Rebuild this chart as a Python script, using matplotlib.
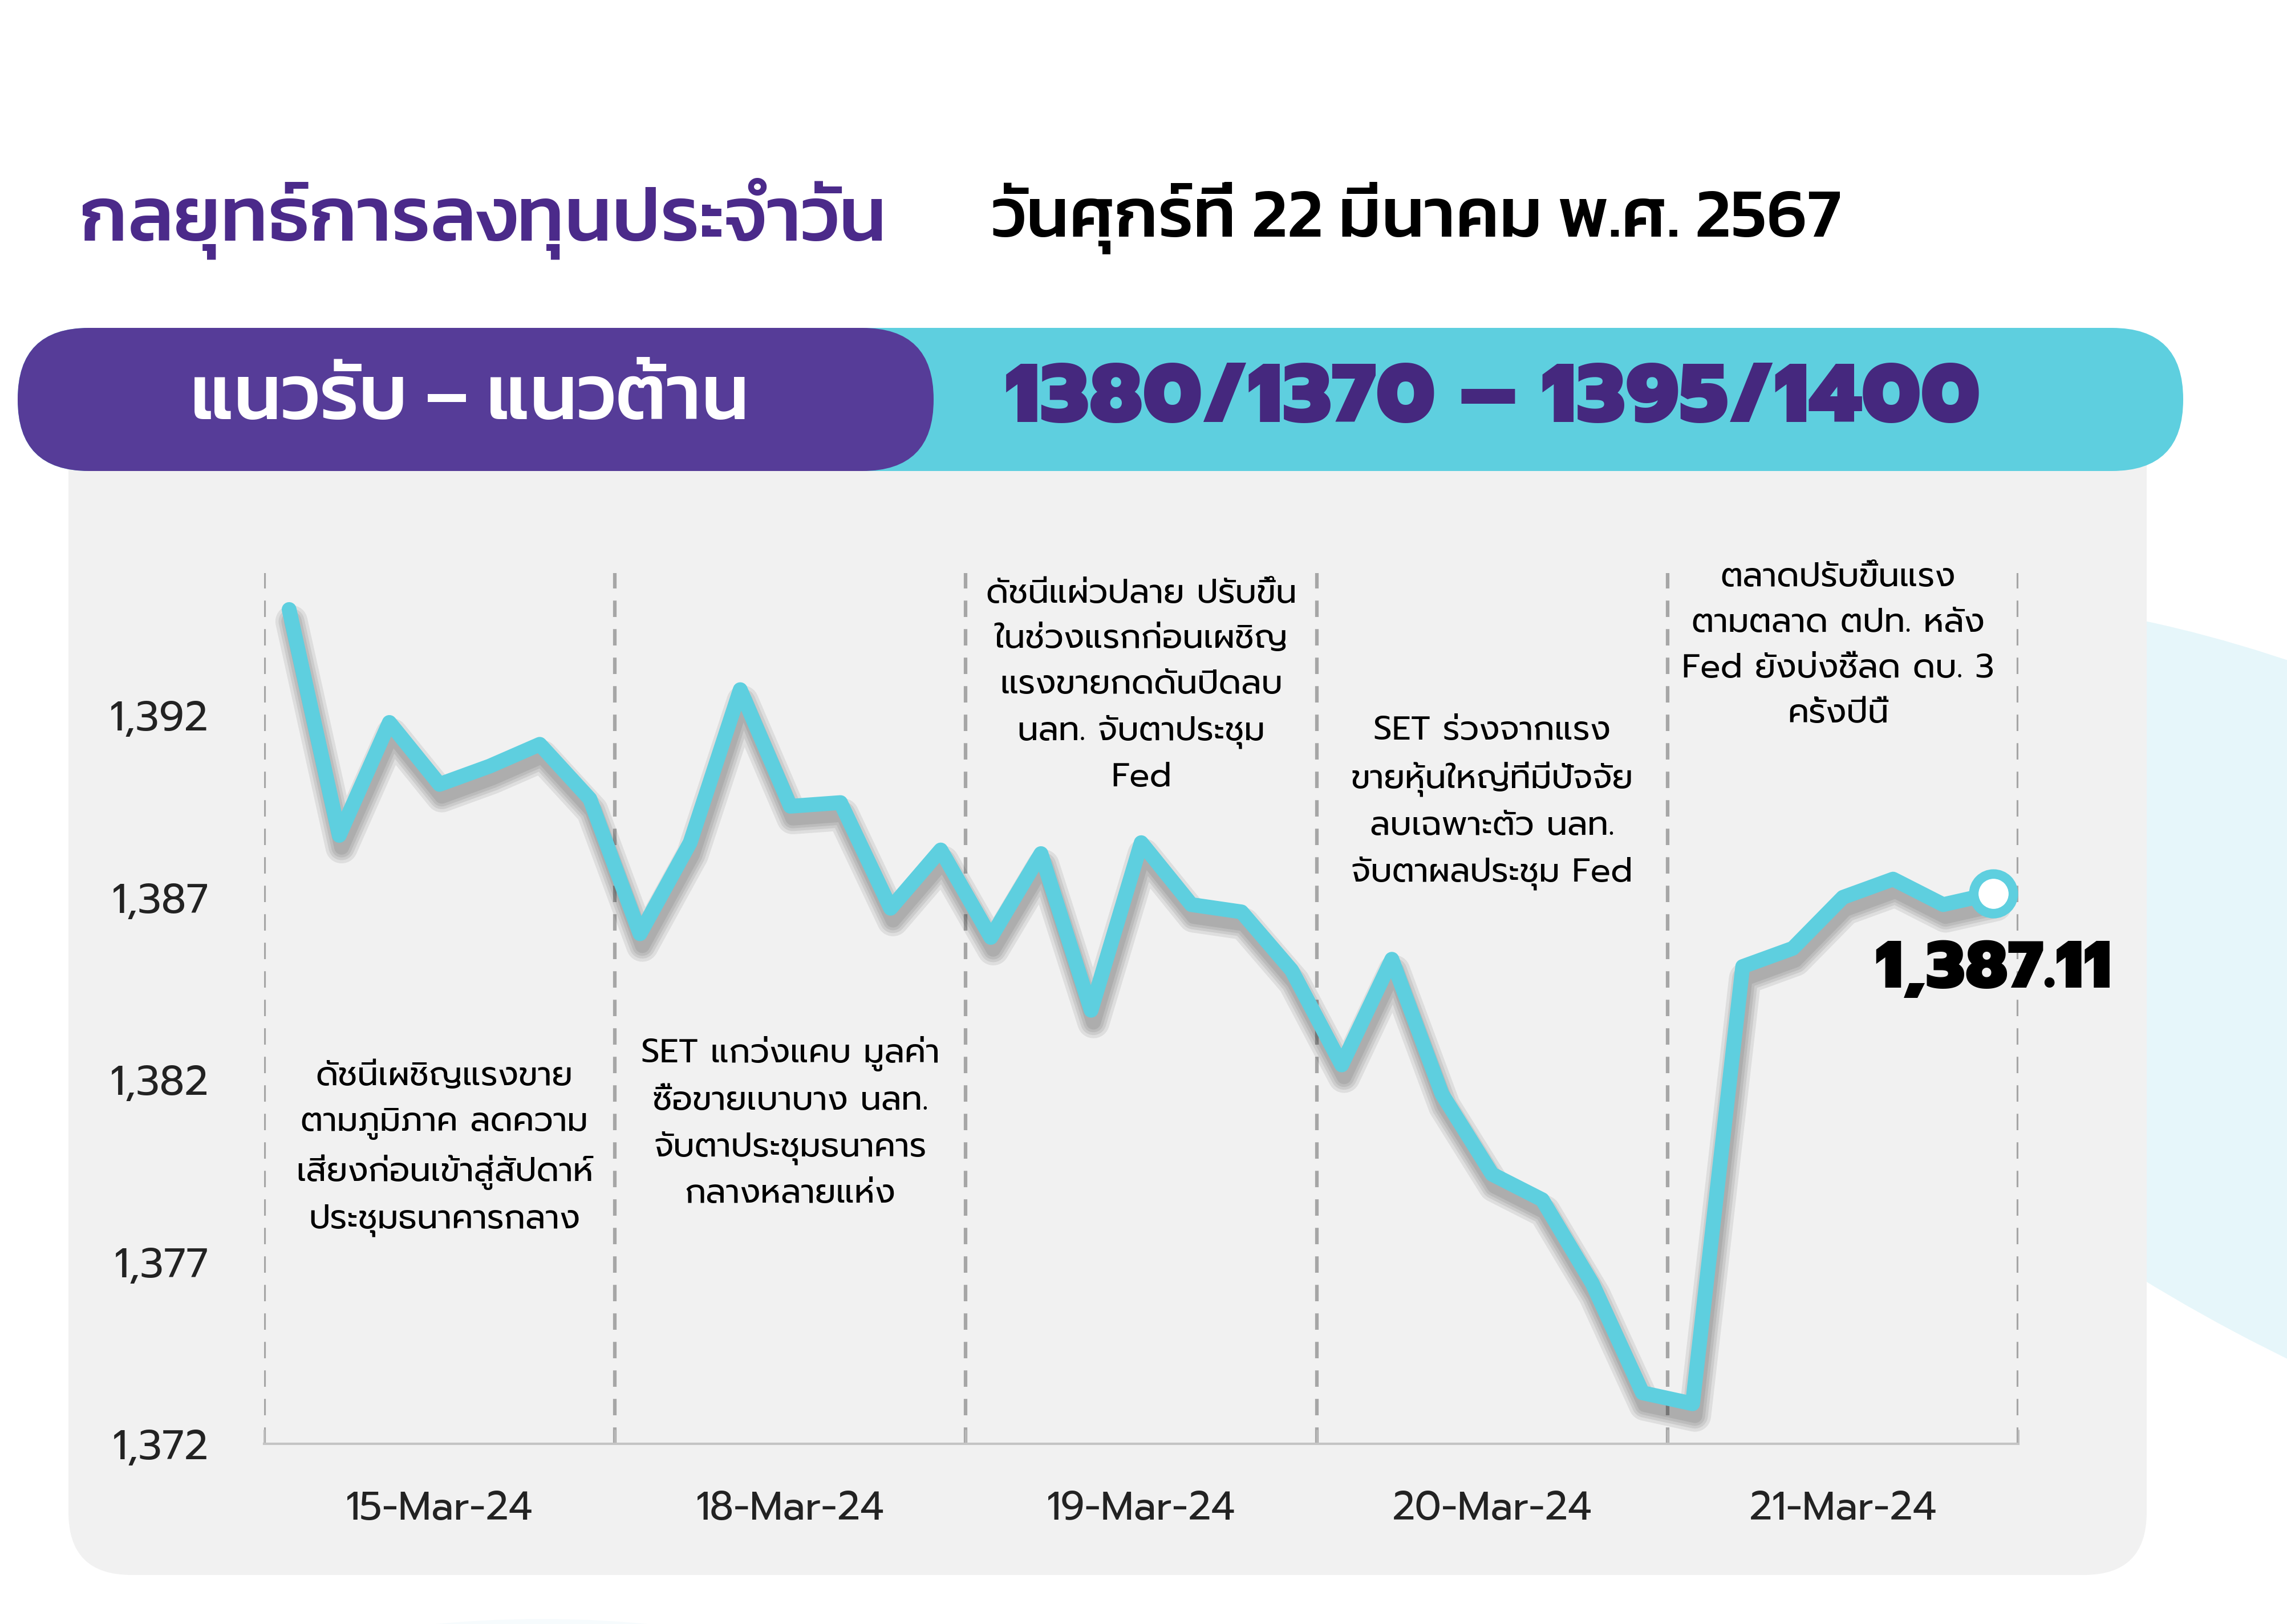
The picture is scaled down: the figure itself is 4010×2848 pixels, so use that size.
import numpy as np
import matplotlib
matplotlib.use("Agg")
import matplotlib.pyplot as plt
import matplotlib.patheffects as pe
from matplotlib.patches import FancyBboxPatch, Ellipse

# ฟอนต์ไทย
plt.rcParams['font.family'] = ['Prompt', 'DejaVu Sans']
head_font = ['Kanit', 'DejaVu Sans']

# ข้อมูลดัชนี SET (7 จุดต่อวัน)
days = ['15-Mar-24', '18-Mar-24', '19-Mar-24', '20-Mar-24', '21-Mar-24']
points_per_day = 7
set_index = [1394.9, 1388.7, 1391.8, 1390.1, 1390.6, 1391.2, 1389.7,
             1386.0, 1388.5, 1392.7, 1389.5, 1389.6, 1386.7, 1388.3,
             1385.9, 1388.2, 1383.9, 1388.5, 1386.8, 1386.6, 1385.0,
             1382.4, 1385.3, 1381.6, 1379.4, 1378.7, 1376.4, 1373.4,
             1373.1, 1385.1, 1385.6, 1387.0, 1387.5, 1386.8, 1387.11]
y_ticks = [1372, 1377, 1382, 1387, 1392]
last_label = '1,387.11'

notes = [
    'ดัชนีเผชิญแรงขาย\nตามภูมิภาค ลดความ\nเสี่ยงก่อนเข้าสู่สัปดาห์\nประชุมธนาคารกลาง',
    'SET แกว่งแคบ มูลค่า\nซื้อขายเบาบาง นลท.\nจับตาประชุมธนาคาร\nกลางหลายแห่ง',
    'ดัชนีแผ่วปลาย ปรับขึ้น\nในช่วงแรกก่อนเผชิญ\nแรงขายกดดันปิดลบ\nนลท. จับตาประชุม\nFed',
    'SET ร่วงจากแรง\nขายหุ้นใหญ่ที่มีปัจจัย\nลบเฉพาะตัว นลท.\nจับตาผลประชุม Fed',
    'ตลาดปรับขึ้นแรง\nตามตลาด ตปท. หลัง\nFed ยังบ่งชี้ลด ดบ. 3\nครั้งปีนี้',
]

title = 'กลยุทธ์การลงทุนประจำวัน'
date_text = 'วันศุกร์ที่ 22 มีนาคม พ.ศ. 2567'
band_label = 'แนวรับ – แนวต้าน'
band_value = '1380/1370 – 1395/1400'

cyan = '#5ECFDF'
purple = '#563C98'
dark_purple = '#45287E'

W, H = 4010, 2848
fig = plt.figure(figsize=(W / 100, H / 100), dpi=100)
fig.patch.set_facecolor('white')

# พื้นหลัง (หน่วยเป็นพิกเซล)
bg = fig.add_axes([0, 0, 1, 1])
bg.set_xlim(0, W)
bg.set_ylim(H, 0)
bg.axis('off')

bg.add_patch(Ellipse((4180, 1840), 2600, 1120, angle=28, color='#E6F6FA', zorder=0))
bg.add_patch(Ellipse((950, 2990), 1100, 300, color='#F6FBFD', zorder=0))
bg.add_patch(FancyBboxPatch((120, 700), 3644, 2062,
                            boxstyle='round,pad=0,rounding_size=110',
                            fc='#F1F1F1', ec='none', zorder=1))
bg.add_patch(FancyBboxPatch((31, 575), 3797, 251,
                            boxstyle='round,pad=0,rounding_size=125',
                            fc=cyan, ec='none', zorder=2))
bg.add_patch(FancyBboxPatch((31, 575), 1606, 251,
                            boxstyle='round,pad=0,rounding_size=125',
                            fc=purple, ec='none', zorder=3))

bg.text(140, 383, title, color='#4B2A8A', fontsize=97, fontweight='medium',
        family=head_font, ha='left', va='center', zorder=4)
bg.text(1739, 383, date_text, color='black', fontsize=88, fontweight='medium',
        family=head_font, ha='left', va='center', zorder=4)
bg.text(823, 703, band_label, color='white', fontsize=98, fontweight='medium',
        family=head_font, ha='center', va='center', zorder=4)
bg.text(2617, 703, band_value, color=dark_purple, fontsize=105, fontweight='black',
        ha='center', va='center', zorder=4)

# กราฟเส้น
ax = fig.add_axes([463 / W, 1 - 2532 / H, (3539 - 463) / W, (2532 - 1005) / H])
ax.patch.set_alpha(0)
n = len(set_index)
x = np.arange(n)
ax.set_xlim(-0.5, n - 0.5)
ax.set_ylim(1372, 1395.9)

for b in np.arange(0, n + 1, points_per_day) - 0.5:
    ax.axvline(b, color='#A6A6A6', lw=4.5, ls=(0, (4.6, 3.4)), zorder=1)

lw = 18.7
shadow = [pe.SimpleLineShadow(offset=(3, -15), shadow_color='k', alpha=0.08, linewidth=lw + k)
          for k in (22, 14, 7, 0)]
ax.plot(x, set_index, color=cyan, lw=lw, solid_joinstyle='round', solid_capstyle='round',
        path_effects=shadow + [pe.Normal()], zorder=3)
ax.plot(x[-1], set_index[-1], 'o', ms=50, mfc='white', mec=cyan, mew=12, zorder=4)
ax.text(x[-1], 1385.0, last_label, fontsize=84, fontweight='black', color='black',
        ha='center', va='center', zorder=5)

# ข้อความอธิบายแต่ละวัน
note_x = [3.1, 10.0, 17.0, 24.0, 30.9]
note_y = [1380.1, 1380.8, 1392.8, 1389.6, 1393.9]
for nx, ny, txt in zip(note_x, note_y, notes):
    ax.text(nx, ny, txt, fontsize=42, fontweight='normal', ha='center', va='center',
            linespacing=1.55, color='black', zorder=2)

for s in ['top', 'right', 'left']:
    ax.spines[s].set_visible(False)
ax.spines['bottom'].set_color('#C4C4C4')
ax.spines['bottom'].set_linewidth(3)

ax.set_yticks(y_ticks)
ax.set_yticklabels([f'{v:,}' for v in y_ticks])
ax.tick_params(axis='y', length=0, pad=70, labelsize=52, labelcolor='#222222')
ax.set_xticks(np.arange(len(days)) * points_per_day + (points_per_day - 1) / 2)
ax.set_xticklabels(days)
ax.tick_params(axis='x', which='major', length=0, pad=58, labelsize=50, labelcolor='#222222')
ax.set_xticks(np.arange(0, n + 1, points_per_day) - 0.5, minor=True)
ax.tick_params(axis='x', which='minor', direction='in', length=18, width=2, color='#BBBBBB')

fig.savefig('out.png', dpi=100)
